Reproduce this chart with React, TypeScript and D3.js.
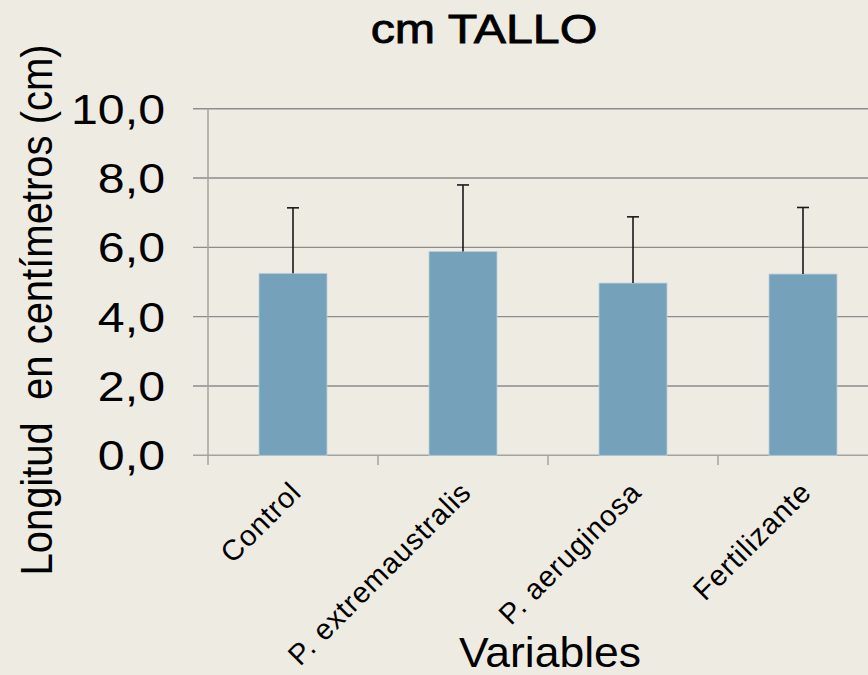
import React from 'react';
import * as d3 from 'd3';

const categories = ['Control', 'P. extremaustralis', 'P. aeruginosa', 'Fertilizante'];
const means = [5.25, 5.88, 4.97, 5.23];
const errors = [1.89, 1.92, 1.91, 1.92];
const yTicks = [0, 2, 4, 6, 8, 10];
const title = 'cm TALLO';
const yTitle = 'Longitud  en centímetros (cm)';
const xTitle = 'Variables';

const W = 868;
const H = 675;
const FONT = '"Liberation Sans", Arial, sans-serif';

export default function App() {
  const x = d3.scaleBand<string>().domain(categories).range([208, 888]).paddingInner(0.6).paddingOuter(0.3);
  const y = d3.scaleLinear().domain([0, 10]).range([455.3, 108.7]);
  const step = x.step();
  const fmt = (v: number) => v.toFixed(1).replace('.', ',');

  return (
    <svg width={W} height={H} style={{ position: 'absolute', left: 0, top: 0 }} fontFamily={FONT}>
      <rect x={0} y={0} width={W} height={H} fill="#EEEBE3" />
      {/* gridlines */}
      {yTicks.filter(t => t > 0).map(t => (
        <line key={t} x1={193} x2={W} y1={y(t)} y2={y(t)} stroke="#8d8d8a" strokeWidth={1.4} />
      ))}
      {/* y axis */}
      <line x1={208} x2={208} y1={y(10)} y2={465} stroke="#a3a3a0" strokeWidth={1.5} />
      {/* x axis */}
      <line x1={193} x2={W} y1={y(0)} y2={y(0)} stroke="#a3a3a0" strokeWidth={1.5} />
      {categories.map((c, i) => (
        <line key={'t' + i} x1={208 + step * (i + 1)} x2={208 + step * (i + 1)} y1={y(0)} y2={465} stroke="#a3a3a0" strokeWidth={1.5} />
      ))}
      {/* bars */}
      {categories.map((c, i) => (
        <rect key={c} x={x(c)} y={y(means[i])} width={x.bandwidth()} height={y(0) - y(means[i])} fill="#75A1BB" stroke="#b9d0dd" strokeWidth={0.8} />
      ))}
      {/* error bars */}
      {categories.map((c, i) => {
        const cx = (x(c) as number) + x.bandwidth() / 2;
        const top = y(means[i] + errors[i]);
        return (
          <g key={'e' + i} stroke="#1a1a1a" strokeWidth={1.6}>
            <line x1={cx} x2={cx} y1={y(means[i])} y2={top} />
            <line x1={cx - 6} x2={cx + 6} y1={top} y2={top} />
          </g>
        );
      })}
      {/* y tick labels */}
      {yTicks.map(t => (
        <text key={'l' + t} transform={`translate(165,${y(t) + 15}) scale(1.15,1)`} textAnchor="end" fontSize={42} fill="#000">
          {fmt(t)}
        </text>
      ))}
      {/* x tick labels */}
      {categories.map((c, i) => {
        const cx = (x(c) as number) + x.bandwidth() / 2;
        return (
          <text key={'x' + i} transform={`translate(${cx + 10},${494}) rotate(-45)`} textAnchor="end" fontSize={29} letterSpacing={0.9} fill="#000">
            {c}
          </text>
        );
      })}
      {/* title */}
      <text transform={`translate(484,42.7) scale(1.18,1)`} textAnchor="middle" fontSize={41} fill="#000" stroke="#000" strokeWidth={0.8}>{title}</text>
      {/* y title */}
      <text transform={`translate(52,310) scale(1.1,1) rotate(-90)`} textAnchor="middle" fontSize={40} fill="#000" style={{ whiteSpace: 'pre' }}>{yTitle}</text>
      {/* x title */}
      <text transform={`translate(550,667) scale(1.06,1)`} textAnchor="middle" fontSize={42} fill="#000">{xTitle}</text>
    </svg>
  );
}
